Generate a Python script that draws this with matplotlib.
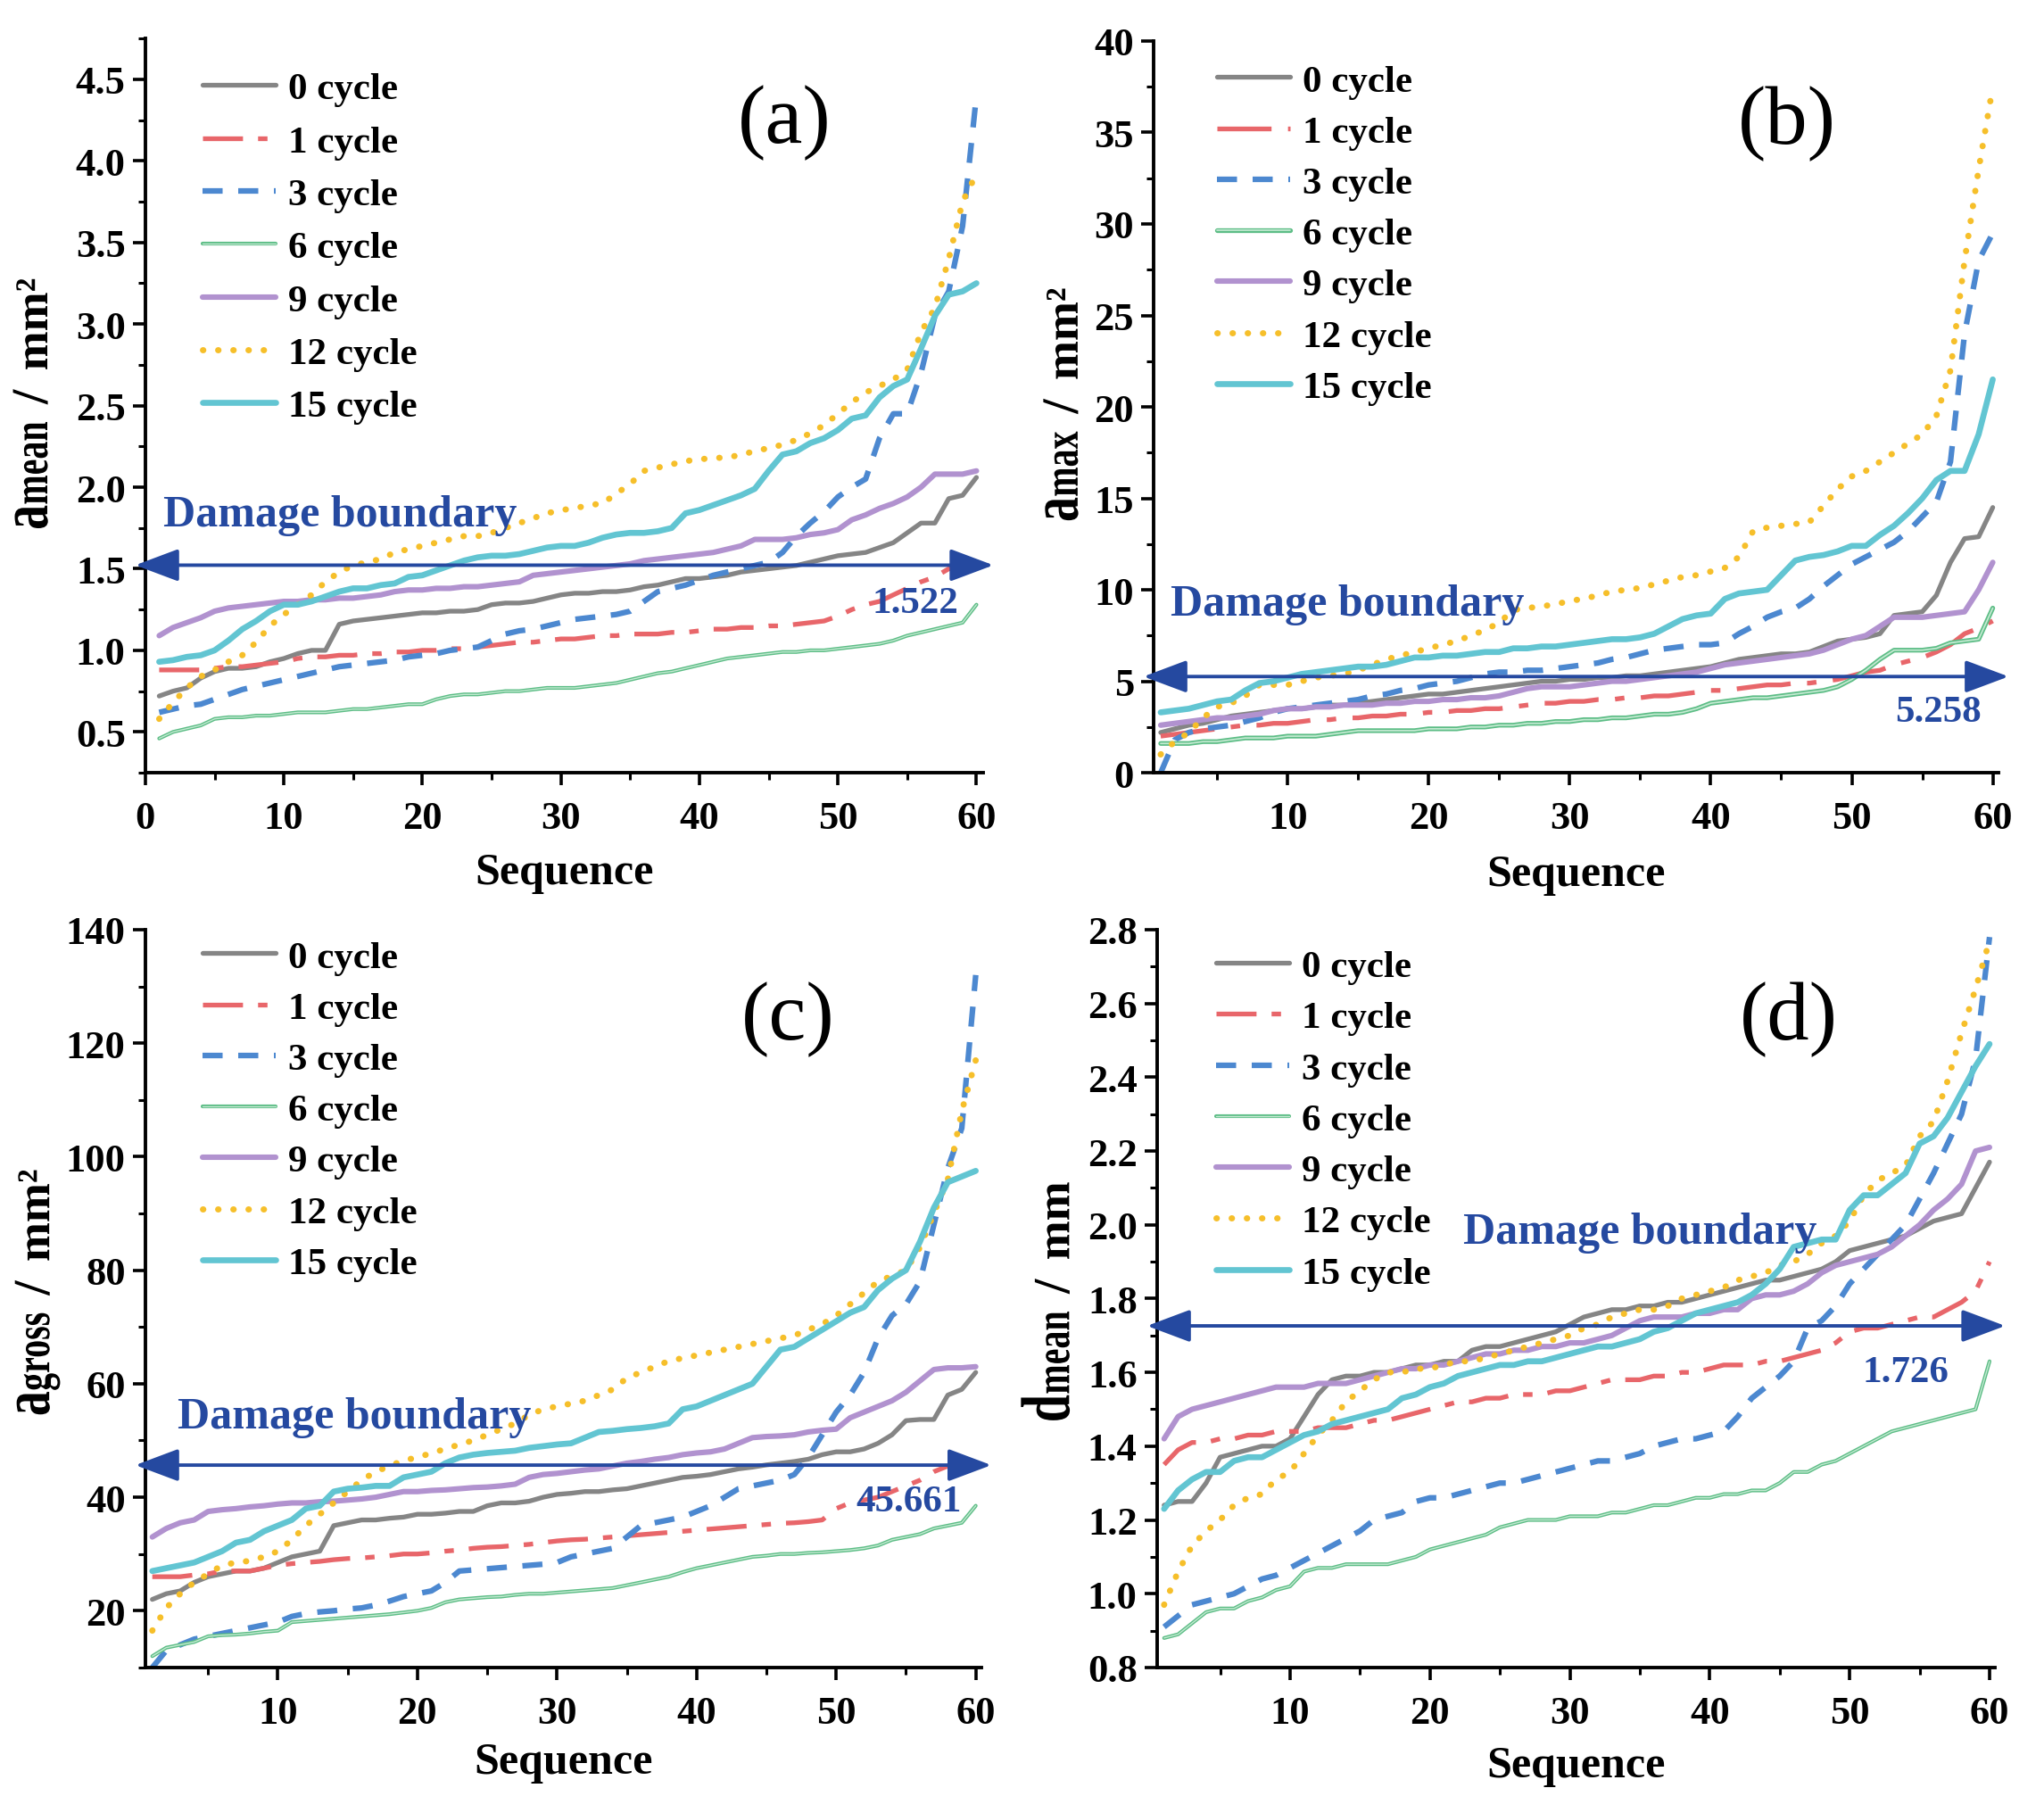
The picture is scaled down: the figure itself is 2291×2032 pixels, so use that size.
import matplotlib

matplotlib.use("Agg")
import matplotlib.pyplot as plt
import matplotlib.patheffects as pe
import matplotlib.transforms as mtransforms
import numpy as np
from matplotlib.font_manager import FontProperties
from matplotlib.patches import PathPatch
from matplotlib.textpath import TextPath
from matplotlib.ticker import MultipleLocator, FormatStrFormatter

plt.rcParams["font.family"] = ["Liberation Serif", "DejaVu Serif"]
plt.rcParams["font.weight"] = "bold"
plt.rcParams["axes.labelweight"] = "bold"

# ---- данные: 60 точек на каждую кривую (отсортированные значения) ----
seq = np.arange(1, 61)
cycles = ["0 cycle", "1 cycle", "3 cycle", "6 cycle", "9 cycle", "12 cycle", "15 cycle"]

# (a) a_mean, mm^2
amean_0 = [0.72, 0.75, 0.77, 0.83, 0.87, 0.89, 0.89, 0.90, 0.93, 0.95,
           0.98, 1.00, 1.00, 1.16, 1.18, 1.19, 1.20, 1.21, 1.22, 1.23,
           1.23, 1.24, 1.24, 1.25, 1.28, 1.29, 1.29, 1.30, 1.32, 1.34,
           1.35, 1.35, 1.36, 1.36, 1.37, 1.39, 1.40, 1.42, 1.44, 1.44,
           1.45, 1.46, 1.48, 1.49, 1.50, 1.51, 1.52, 1.54, 1.56, 1.58,
           1.59, 1.60, 1.63, 1.66, 1.72, 1.78, 1.78, 1.93, 1.95, 2.06]
amean_1 = [0.88, 0.88, 0.88, 0.88, 0.89, 0.90, 0.90, 0.91, 0.92, 0.93,
           0.95, 0.96, 0.96, 0.97, 0.97, 0.98, 0.98, 0.99, 0.99, 1.00,
           1.00, 1.01, 1.01, 1.02, 1.03, 1.04, 1.05, 1.05, 1.06, 1.07,
           1.07, 1.08, 1.09, 1.09, 1.10, 1.10, 1.10, 1.11, 1.11, 1.12,
           1.13, 1.13, 1.14, 1.14, 1.15, 1.15, 1.16, 1.17, 1.18, 1.21,
           1.25, 1.28, 1.30, 1.34, 1.38, 1.42, 1.45, 1.50, 1.51, 1.53]
amean_3 = [0.62, 0.64, 0.66, 0.67, 0.70, 0.73, 0.76, 0.78, 0.80, 0.82,
           0.84, 0.86, 0.88, 0.90, 0.91, 0.92, 0.93, 0.94, 0.96, 0.97,
           0.98, 1.00, 1.01, 1.02, 1.06, 1.10, 1.12, 1.13, 1.15, 1.17,
           1.19, 1.20, 1.21, 1.22, 1.24, 1.30, 1.36, 1.38, 1.40, 1.43,
           1.46, 1.48, 1.50, 1.52, 1.54, 1.60, 1.70, 1.78, 1.85, 1.94,
           2.00, 2.05, 2.30, 2.45, 2.45, 2.70, 3.05, 3.20, 3.60, 4.40]
amean_6 = [0.46, 0.50, 0.52, 0.54, 0.58, 0.59, 0.59, 0.60, 0.60, 0.61,
           0.62, 0.62, 0.62, 0.63, 0.64, 0.64, 0.65, 0.66, 0.67, 0.67,
           0.70, 0.72, 0.73, 0.73, 0.74, 0.75, 0.75, 0.76, 0.77, 0.77,
           0.77, 0.78, 0.79, 0.80, 0.82, 0.84, 0.86, 0.87, 0.89, 0.91,
           0.93, 0.95, 0.96, 0.97, 0.98, 0.99, 0.99, 1.00, 1.00, 1.01,
           1.02, 1.03, 1.04, 1.06, 1.09, 1.11, 1.13, 1.15, 1.17, 1.28]
amean_9 = [1.09, 1.14, 1.17, 1.20, 1.24, 1.26, 1.27, 1.28, 1.29, 1.30,
           1.30, 1.31, 1.31, 1.32, 1.32, 1.33, 1.34, 1.36, 1.37, 1.37,
           1.38, 1.38, 1.39, 1.39, 1.40, 1.41, 1.42, 1.46, 1.47, 1.48,
           1.49, 1.50, 1.51, 1.52, 1.53, 1.55, 1.56, 1.57, 1.58, 1.59,
           1.60, 1.62, 1.64, 1.68, 1.68, 1.68, 1.69, 1.71, 1.72, 1.74,
           1.80, 1.83, 1.87, 1.90, 1.94, 2.00, 2.08, 2.08, 2.08, 2.10]
amean_12 = [0.58, 0.68, 0.77, 0.84, 0.88, 0.93, 0.97, 1.05, 1.15, 1.22,
            1.28, 1.34, 1.42, 1.48, 1.52, 1.54, 1.56, 1.60, 1.62, 1.64,
            1.66, 1.68, 1.70, 1.70, 1.72, 1.75, 1.78, 1.81, 1.84, 1.86,
            1.87, 1.89, 1.90, 1.96, 2.02, 2.10, 2.12, 2.14, 2.16, 2.17,
            2.18, 2.18, 2.20, 2.22, 2.24, 2.26, 2.29, 2.33, 2.38, 2.45,
            2.52, 2.58, 2.62, 2.66, 2.72, 2.95, 3.10, 3.40, 3.75, 3.92]
amean_15 = [0.93, 0.94, 0.96, 0.97, 1.00, 1.06, 1.13, 1.18, 1.24, 1.28,
            1.28, 1.30, 1.33, 1.36, 1.38, 1.38, 1.40, 1.41, 1.45, 1.46,
            1.49, 1.52, 1.55, 1.57, 1.58, 1.58, 1.59, 1.61, 1.63, 1.64,
            1.64, 1.66, 1.69, 1.71, 1.72, 1.72, 1.73, 1.75, 1.84, 1.86,
            1.89, 1.92, 1.95, 1.99, 2.10, 2.20, 2.22, 2.27, 2.30, 2.35,
            2.42, 2.44, 2.55, 2.62, 2.66, 2.85, 3.05, 3.18, 3.20, 3.25]

# (b) a_max, mm^2
amax_0 = [2.2, 2.4, 2.6, 2.7, 2.9, 3.1, 3.2, 3.3, 3.4, 3.5,
          3.5, 3.6, 3.7, 3.7, 3.8, 3.9, 4.0, 4.1, 4.2, 4.3,
          4.3, 4.4, 4.5, 4.6, 4.7, 4.8, 4.9, 5.0, 5.0, 5.1,
          5.1, 5.2, 5.2, 5.3, 5.3, 5.4, 5.5, 5.6, 5.7, 5.8,
          6.0, 6.2, 6.3, 6.4, 6.5, 6.5, 6.6, 6.9, 7.2, 7.3,
          7.4, 7.6, 8.6, 8.7, 8.8, 9.7, 11.5, 12.8, 12.9, 14.5]
amax_1 = [2.0, 2.1, 2.2, 2.3, 2.4, 2.5, 2.6, 2.6, 2.7, 2.7,
          2.8, 2.9, 2.9, 3.0, 3.0, 3.1, 3.1, 3.2, 3.2, 3.3,
          3.3, 3.4, 3.4, 3.5, 3.5, 3.6, 3.7, 3.8, 3.8, 3.9,
          3.9, 4.0, 4.0, 4.1, 4.1, 4.2, 4.2, 4.3, 4.4, 4.5,
          4.5, 4.6, 4.7, 4.8, 4.8, 4.9, 4.9, 5.0, 5.1, 5.3,
          5.5, 5.6, 5.9, 6.1, 6.3, 6.6, 7.0, 7.6, 7.9, 8.3]
amax_3 = [0.0, 1.8, 2.2, 2.4, 2.5, 2.6, 2.8, 3.0, 3.3, 3.5,
          3.6, 3.7, 3.8, 3.9, 4.0, 4.2, 4.3, 4.5, 4.6, 4.8,
          4.9, 5.0, 5.2, 5.4, 5.5, 5.5, 5.6, 5.6, 5.7, 5.8,
          5.9, 6.0, 6.2, 6.3, 6.5, 6.7, 6.8, 6.9, 7.0, 7.0,
          7.1, 7.6, 8.0, 8.5, 8.8, 9.0, 9.5, 10.2, 10.8, 11.4,
          11.8, 12.2, 12.6, 13.2, 14.0, 14.8, 17.0, 24.0, 28.0, 29.5]
amax_6 = [1.6, 1.6, 1.6, 1.7, 1.7, 1.8, 1.9, 1.9, 1.9, 2.0,
          2.0, 2.0, 2.1, 2.2, 2.3, 2.3, 2.3, 2.3, 2.3, 2.4,
          2.4, 2.4, 2.5, 2.5, 2.6, 2.6, 2.7, 2.7, 2.8, 2.8,
          2.9, 2.9, 3.0, 3.0, 3.1, 3.2, 3.2, 3.3, 3.5, 3.8,
          3.9, 4.0, 4.1, 4.1, 4.2, 4.3, 4.4, 4.5, 4.7, 5.1,
          5.6, 6.2, 6.7, 6.7, 6.7, 6.8, 7.1, 7.2, 7.3, 9.0]
amax_9 = [2.6, 2.7, 2.8, 2.9, 3.0, 3.0, 3.1, 3.2, 3.4, 3.5,
          3.5, 3.6, 3.6, 3.7, 3.7, 3.7, 3.8, 3.8, 3.9, 3.9,
          4.0, 4.0, 4.1, 4.1, 4.2, 4.4, 4.6, 4.7, 4.7, 4.7,
          4.8, 4.9, 5.0, 5.0, 5.1, 5.2, 5.3, 5.4, 5.5, 5.7,
          5.9, 6.0, 6.1, 6.2, 6.3, 6.4, 6.5, 6.7, 7.0, 7.3,
          7.5, 8.0, 8.5, 8.5, 8.5, 8.6, 8.7, 8.8, 10.0, 11.5]
amax_12 = [1.0, 1.7, 2.2, 3.0, 3.6, 3.8, 4.2, 4.8, 4.8, 4.8,
           5.0, 5.2, 5.3, 5.4, 5.6, 5.9, 6.2, 6.4, 6.6, 6.8,
           7.0, 7.2, 7.5, 7.8, 8.2, 8.9, 9.0, 9.1, 9.2, 9.4,
           9.5, 9.7, 9.9, 10.0, 10.1, 10.3, 10.5, 10.7, 10.8, 11.0,
           11.2, 11.8, 13.2, 13.4, 13.5, 13.6, 13.7, 14.6, 15.5, 16.2,
           16.5, 17.0, 17.5, 18.0, 18.5, 19.5, 22.0, 28.0, 33.0, 37.5]
amax_15 = [3.3, 3.4, 3.5, 3.7, 3.9, 4.0, 4.5, 4.9, 5.0, 5.2,
           5.4, 5.5, 5.6, 5.7, 5.8, 5.8, 5.9, 6.1, 6.3, 6.3,
           6.4, 6.4, 6.5, 6.6, 6.6, 6.8, 6.8, 6.9, 6.9, 7.0,
           7.1, 7.2, 7.3, 7.3, 7.4, 7.6, 8.0, 8.4, 8.6, 8.7,
           9.5, 9.8, 9.9, 10.0, 10.8, 11.6, 11.8, 11.9, 12.1, 12.4,
           12.4, 13.0, 13.5, 14.2, 15.0, 16.0, 16.5, 16.5, 18.5, 21.5]

# (c) a_gross, mm^2
agross_0 = [22, 23, 23.5, 25, 26, 26.5, 27, 27, 27.5, 28.5,
            29.5, 30, 30.5, 35, 35.5, 36, 36, 36.3, 36.5, 37,
            37, 37.2, 37.5, 37.5, 38.5, 39, 39, 39.3, 40, 40.5,
            40.7, 41, 41, 41.3, 41.5, 42, 42.5, 43, 43.5, 43.7,
            44, 44.5, 45, 45.3, 45.7, 46, 46.3, 46.7, 47.5, 48,
            48, 48.5, 49.5, 51, 53.5, 53.7, 53.7, 58, 59, 62]
agross_1 = [26, 26, 26, 26.3, 26.5, 27, 27, 27, 27.5, 28,
            28.3, 28.5, 28.7, 29, 29.2, 29.3, 29.5, 29.7, 30, 30,
            30.2, 30.5, 30.7, 31, 31.2, 31.3, 31.5, 31.7, 32, 32.3,
            32.5, 32.6, 32.8, 33, 33.2, 33.4, 33.6, 33.8, 34, 34.2,
            34.4, 34.6, 34.8, 35, 35.2, 35.4, 35.5, 35.7, 36, 38,
            39, 39.5, 40, 41, 42, 43, 44.5, 45.5, 46, 46.5]
agross_3 = [10, 13, 14, 15, 15.5, 16, 16.5, 17, 17.5, 18,
            19, 19.5, 19.8, 20, 20.3, 20.5, 21, 21.7, 22.5, 23,
            23.5, 25, 27, 27.2, 27.4, 27.6, 27.8, 28, 28.2, 28.5,
            29.5, 30, 30.5, 31, 33, 35, 35.5, 36, 36.5, 37.5,
            38.5, 40, 41.5, 42, 42.5, 43, 44, 47, 51, 55,
            58, 62, 68, 72, 74, 78, 88, 98, 105, 132]
agross_6 = [12, 13.5, 14, 14.5, 15.5, 15.7, 15.8, 16, 16.3, 16.5,
            18, 18.2, 18.4, 18.6, 18.8, 19, 19.2, 19.4, 19.7, 20,
            20.5, 21.5, 22, 22.2, 22.4, 22.5, 22.8, 23, 23, 23.2,
            23.4, 23.6, 23.8, 24, 24.5, 25, 25.5, 26, 26.8, 27.5,
            28, 28.5, 29, 29.5, 29.7, 30, 30, 30.2, 30.3, 30.5,
            30.7, 31, 31.5, 32.5, 33, 33.5, 34.5, 35, 35.5, 38.5]
agross_9 = [33, 34.5, 35.5, 36, 37.5, 37.8, 38, 38.3, 38.5, 38.8,
            39, 39, 39.2, 39.3, 39.5, 39.7, 40, 40.5, 41, 41,
            41.2, 41.3, 41.5, 41.7, 41.8, 42, 42.3, 43.5, 44, 44.2,
            44.5, 44.8, 45, 45.5, 46, 46.3, 46.7, 47, 47.5, 47.8,
            48, 48.5, 49.5, 50.5, 50.7, 50.8, 51, 51.5, 51.8, 52,
            54, 55, 56, 57, 58.5, 60.5, 62.5, 62.8, 62.8, 63]
agross_12 = [16.5, 20.5, 23, 25, 26.5, 28, 28.5, 28.8, 29.5, 30.5,
             32.5, 35, 37, 39, 41, 43, 44.5, 45.5, 46.5, 47,
             47.8, 48.5, 49.3, 50, 51, 52, 53, 54.5, 55.5, 56,
             56.5, 57, 58, 59, 61, 62, 63, 64, 64.5, 65,
             65.5, 66, 66.5, 67, 67.5, 68, 68.5, 69.5, 70.5, 72,
             74, 76, 78, 79, 80, 84, 90, 96, 108, 117]
agross_15 = [27, 27.5, 28, 28.5, 29.5, 30.5, 32, 32.5, 34, 35,
             36, 38, 38.5, 41, 41.5, 41.7, 42, 42, 43.5, 44,
             44.5, 46, 47, 47.5, 47.8, 48, 48.2, 48.7, 49, 49.3,
             49.5, 50.5, 51.5, 51.7, 52, 52.2, 52.5, 53, 55.5, 56,
             57, 58, 59, 60, 63, 66, 66.5, 68, 69.5, 71,
             72.5, 73.5, 76.5, 78.5, 80, 85, 91, 95.5, 96.5, 97.5]

# (d) d_mean, mm
dmean_0 = [1.24, 1.25, 1.25, 1.30, 1.37, 1.38, 1.39, 1.40, 1.40, 1.42,
           1.48, 1.54, 1.58, 1.59, 1.59, 1.60, 1.60, 1.61, 1.62, 1.62,
           1.63, 1.63, 1.66, 1.67, 1.67, 1.68, 1.69, 1.70, 1.71, 1.73,
           1.75, 1.76, 1.77, 1.77, 1.78, 1.78, 1.79, 1.79, 1.80, 1.81,
           1.82, 1.83, 1.84, 1.85, 1.85, 1.86, 1.87, 1.88, 1.90, 1.93,
           1.94, 1.95, 1.96, 1.97, 1.99, 2.01, 2.02, 2.03, 2.10, 2.17]
dmean_1 = [1.35, 1.39, 1.41, 1.41, 1.42, 1.42, 1.43, 1.43, 1.44, 1.44,
           1.44, 1.45, 1.45, 1.45, 1.46, 1.47, 1.47, 1.48, 1.49, 1.50,
           1.51, 1.52, 1.52, 1.53, 1.53, 1.54, 1.54, 1.54, 1.55, 1.55,
           1.56, 1.57, 1.58, 1.58, 1.58, 1.59, 1.59, 1.60, 1.60, 1.61,
           1.62, 1.62, 1.62, 1.63, 1.63, 1.64, 1.65, 1.66, 1.68, 1.71,
           1.72, 1.72, 1.73, 1.74, 1.75, 1.75, 1.77, 1.79, 1.82, 1.90]
dmean_3 = [0.91, 0.94, 0.97, 0.98, 0.99, 1.00, 1.02, 1.04, 1.05, 1.07,
           1.09, 1.11, 1.13, 1.15, 1.17, 1.20, 1.21, 1.22, 1.25, 1.26,
           1.26, 1.27, 1.28, 1.29, 1.30, 1.30, 1.31, 1.32, 1.33, 1.34,
           1.35, 1.36, 1.36, 1.37, 1.38, 1.40, 1.41, 1.42, 1.42, 1.43,
           1.44, 1.48, 1.53, 1.56, 1.59, 1.63, 1.72, 1.74, 1.78, 1.84,
           1.88, 1.92, 1.96, 2.00, 2.07, 2.14, 2.22, 2.30, 2.45, 2.78]
dmean_6 = [0.88, 0.89, 0.92, 0.95, 0.96, 0.96, 0.98, 0.99, 1.01, 1.02,
           1.06, 1.07, 1.07, 1.08, 1.08, 1.08, 1.08, 1.09, 1.10, 1.12,
           1.13, 1.14, 1.15, 1.16, 1.18, 1.19, 1.20, 1.20, 1.20, 1.21,
           1.21, 1.21, 1.22, 1.22, 1.23, 1.24, 1.24, 1.25, 1.26, 1.26,
           1.27, 1.27, 1.28, 1.28, 1.30, 1.33, 1.33, 1.35, 1.36, 1.38,
           1.40, 1.42, 1.44, 1.45, 1.46, 1.47, 1.48, 1.49, 1.50, 1.63]
dmean_9 = [1.42, 1.48, 1.50, 1.51, 1.52, 1.53, 1.54, 1.55, 1.56, 1.56,
           1.56, 1.57, 1.57, 1.57, 1.58, 1.59, 1.60, 1.61, 1.61, 1.62,
           1.62, 1.63, 1.64, 1.65, 1.65, 1.66, 1.66, 1.67, 1.67, 1.68,
           1.68, 1.69, 1.70, 1.72, 1.74, 1.75, 1.75, 1.75, 1.76, 1.76,
           1.77, 1.77, 1.80, 1.81, 1.81, 1.82, 1.84, 1.87, 1.89, 1.90,
           1.91, 1.92, 1.94, 1.97, 2.00, 2.04, 2.07, 2.11, 2.20, 2.21]
dmean_12 = [0.97, 1.06, 1.13, 1.17, 1.20, 1.24, 1.26, 1.27, 1.31, 1.33,
            1.38, 1.43, 1.47, 1.52, 1.55, 1.58, 1.60, 1.60, 1.61, 1.61,
            1.62, 1.63, 1.63, 1.64, 1.65, 1.66, 1.67, 1.68, 1.69, 1.70,
            1.72, 1.73, 1.75, 1.76, 1.77, 1.77, 1.78, 1.80, 1.81, 1.82,
            1.83, 1.85, 1.86, 1.87, 1.89, 1.90, 1.92, 1.95, 1.97, 2.01,
            2.08, 2.12, 2.14, 2.16, 2.24, 2.28, 2.39, 2.52, 2.64, 2.77]
dmean_15 = [1.23, 1.28, 1.31, 1.33, 1.33, 1.36, 1.37, 1.37, 1.39, 1.41,
            1.43, 1.44, 1.46, 1.47, 1.48, 1.49, 1.50, 1.53, 1.54, 1.56,
            1.57, 1.59, 1.60, 1.61, 1.62, 1.62, 1.63, 1.63, 1.64, 1.65,
            1.66, 1.67, 1.67, 1.68, 1.69, 1.71, 1.72, 1.74, 1.76, 1.77,
            1.78, 1.79, 1.81, 1.84, 1.88, 1.94, 1.95, 1.96, 1.96, 2.04,
            2.08, 2.08, 2.11, 2.14, 2.22, 2.24, 2.29, 2.36, 2.43, 2.49]

boundary_values = [1.522, 5.258, 45.661, 1.726]

# ---- стили линий ----
C_GRAY = "#858585"
C_RED = "#e8666a"
C_BLUE = "#4c88d0"
C_GREEN = "#5dbd86"
C_PURPLE = "#b192cf"
C_YELLOW = "#f6bf2a"
C_CYAN = "#62c5d2"
C_BOUND = "#2549a0"


def make_styles(red_dash, green_lw):
    return [
        dict(color=C_GRAY, lw=3.8, ls="-"),
        dict(color=C_RED, lw=3.8, ls=(0, red_dash), dash_capstyle="butt"),
        dict(color=C_BLUE, lw=4.5, ls=(0, (3.6, 2.8)), dash_capstyle="butt"),
        dict(color=C_GREEN, lw=green_lw, ls="-",
             path_effects=[pe.Stroke(linewidth=green_lw, foreground=C_GREEN),
                           pe.Stroke(linewidth=green_lw * 0.33, foreground="#c4ead2")]),
        dict(color=C_PURPLE, lw=4.4, ls="-"),
        dict(color=C_YELLOW, lw=5.0, ls=(0, (0.05, 2.4)), dash_capstyle="round"),
        dict(color=C_CYAN, lw=4.8, ls="-"),
    ]


LABEL_FONT = FontProperties(family="Liberation Serif", weight="bold")


def condensed_ylabel(fig, ax, pieces, x0, y0):
    """Подпись оси Y из кусков (текст, кегль, сжатие, отступ) — как в Origin:
    буквы вдоль строки сжаты, базовая линия общая."""
    pos = 0.0
    for text, size, cond, gap in pieces:
        pos += gap
        tp = TextPath((0, 0), text, size=size, prop=LABEL_FONT)
        ext = tp.get_extents()
        tr = (mtransforms.Affine2D().translate(-ext.x0, 0).scale(cond, 1)
              .translate(pos, 0).rotate_deg(90).scale(1 / 72.0)
              + fig.dpi_scale_trans
              + mtransforms.ScaledTranslation(x0, y0, ax.transAxes))
        fig.add_artist(PathPatch(tp, transform=tr, facecolor="black",
                                 edgecolor="none", lw=0))
        pos += ext.width * cond


def draw_panel(fig, ax, series, styles, tag, ylab, yb, xlim, ylim, ymaj, ymin,
               xticks, txt_db, txt_val, leg_anchor, leg_space, ylab_xy, xpad):
    handles = []
    for ys, st, name in zip(series, styles, cycles):
        (h,) = ax.plot(seq, ys, label=name, solid_capstyle="round", **st)
        handles.append(h)

    ax.set_xlim(*xlim)
    ax.set_ylim(*ylim)
    ax.set_xticks(xticks)
    ax.xaxis.set_minor_locator(MultipleLocator(5))
    ax.yaxis.set_major_locator(MultipleLocator(ymaj))
    ax.yaxis.set_minor_locator(MultipleLocator(ymin))
    for s in ("top", "right"):
        ax.spines[s].set_visible(False)
    for s in ("left", "bottom"):
        ax.spines[s].set_linewidth(2.8)
    ax.tick_params(which="major", direction="out", length=10, width=2.6,
                   labelsize=32)
    ax.tick_params(which="minor", direction="out", length=6, width=2.2)
    ax.tick_params(axis="x", which="major", pad=12)
    ax.tick_params(axis="y", which="major", pad=6)
    ax.set_xlabel("Sequence", fontsize=36, fontweight="bold", labelpad=xpad)

    condensed_ylabel(fig, ax, ylab, *ylab_xy)

    # граница повреждения
    ax.annotate("", xy=(1.012, yb), xytext=(-0.012, yb),
                xycoords=("axes fraction", "data"),
                textcoords=("axes fraction", "data"),
                arrowprops=dict(arrowstyle="<|-|>,head_length=1.2,head_width=0.45",
                                color=C_BOUND, lw=2.8, mutation_scale=25,
                                shrinkA=0, shrinkB=0),
                annotation_clip=False, zorder=5)
    ax.text(txt_db[0], txt_db[1], "Damage boundary", color=C_BOUND,
            fontsize=36, ha="left", va="center", zorder=6)
    ax.text(txt_val[0], txt_val[1], f"{yb}", color=C_BOUND,
            fontsize=31, ha="center", va="center", zorder=6)

    ax.text(tag[1], tag[2], tag[0], transform=ax.transAxes, fontsize=68,
            fontweight="normal", ha="center", va="center")

    ax.legend(handles, cycles, loc="upper left", bbox_to_anchor=leg_anchor,
              frameon=False, fontsize=31, handlelength=1.9,
              handletextpad=0.32, labelspacing=leg_space, borderaxespad=0)


def ylabel_pieces(big, sub, unit):
    return [(big, 56, 0.72, 0), (sub, 40, 0.72, 1.5),
            ("/", 42, 1.0, 14), (unit, 38, 1.0, 16)]


dash_std = (8.5, 3.2, 2.0, 3.2)
dash_long = (11.5, 3.5, 2.0, 3.5)

fig = plt.figure(figsize=(22.91, 20.33), dpi=100)
ax_a = fig.add_axes([0.0711, 0.5735, 0.4100, 0.4048])
ax_b = fig.add_axes([0.5644, 0.5735, 0.4133, 0.4034])
ax_c = fig.add_axes([0.0711, 0.0802, 0.4090, 0.4068])
ax_d = fig.add_axes([0.5661, 0.0802, 0.4100, 0.4068])

draw_panel(fig, ax_a, [amean_0, amean_1, amean_3, amean_6, amean_9, amean_12, amean_15],
           make_styles(dash_std, 3.0), ("(a)", 0.763, 0.886),
           ylabel_pieces("a", "mean", "mm²"), boundary_values[0],
           (0, 60.5), (0.25, 4.75), 0.5, 0.25, range(0, 61, 10),
           (1.3, 1.83), (55.6, 1.29), (0.05, 0.976), 0.47, (-0.117, 0.333), 13)
draw_panel(fig, ax_b, [amax_0, amax_1, amax_3, amax_6, amax_9, amax_12, amax_15],
           make_styles(dash_long, 3.8), ("(b)", 0.75, 0.888),
           ylabel_pieces("a", "max", "mm²"), boundary_values[1],
           (0.5, 60.4), (0, 40), 5, 2.5, range(10, 61, 10),
           (1.7, 9.2), (56.1, 3.3), (0.057, 0.99), 0.42, (-0.09, 0.345), 15)
draw_panel(fig, ax_c, [agross_0, agross_1, agross_3, agross_6, agross_9, agross_12, agross_15],
           make_styles(dash_std, 3.0), ("(c)", 0.769, 0.879),
           ylabel_pieces("a", "gross", "mm²"), boundary_values[2],
           (0.5, 60.4), (10, 140), 20, 10, range(10, 61, 10),
           (2.8, 54.2), (55.2, 39.2), (0.05, 1.007), 0.42, (-0.115, 0.343), 9)
draw_panel(fig, ax_d, [dmean_0, dmean_1, dmean_3, dmean_6, dmean_9, dmean_12, dmean_15],
           make_styles(dash_std, 3.0), ("(d)", 0.754, 0.879),
           ylabel_pieces("d", "mean", "mm"), boundary_values[3],
           (0.5, 60.4), (0.8, 2.8), 0.2, 0.1, range(10, 61, 10),
           (22.4, 1.98), (54.0, 1.60), (0.052, 0.994), 0.42, (-0.105, 0.335), 12)

ax_a.yaxis.set_major_formatter(FormatStrFormatter("%.1f"))
ax_d.yaxis.set_major_formatter(FormatStrFormatter("%.1f"))

fig.savefig("out.png", dpi=100)
